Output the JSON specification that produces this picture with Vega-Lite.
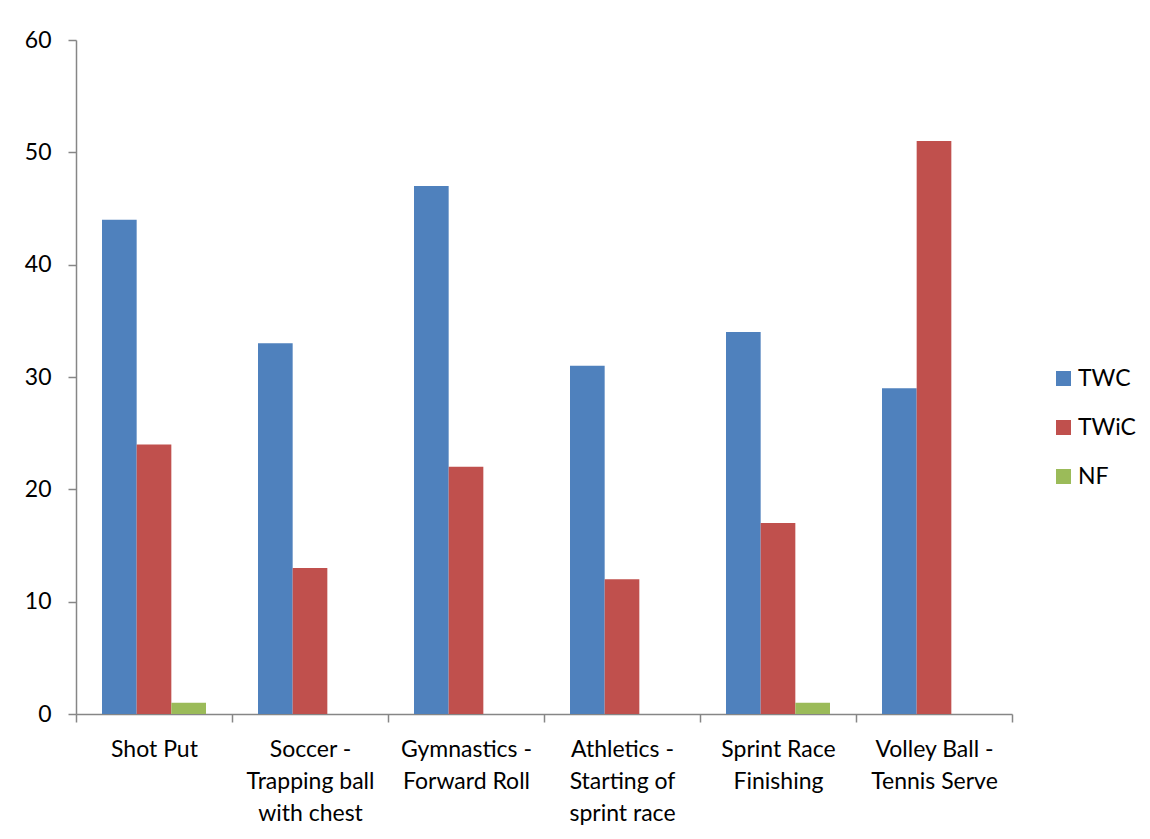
{
  "$schema": "https://vega.github.io/schema/vega-lite/v6.json",
  "width": 936,
  "height": 674,
  "autosize": {"type": "none"},
  "padding": {"left": 76, "top": 40, "right": 138, "bottom": 125},
  "background": "white",
  "config": {
    "view": {"stroke": null},
    "font": "Lato",
    "axis": {
      "domainColor": "#868686",
      "domainWidth": 1.5,
      "tickColor": "#868686",
      "tickWidth": 1.5,
      "tickSize": 8,
      "labelColor": "#000000",
      "labelFont": "Lato",
      "labelFontSize": 23,
      "grid": false,
      "title": null
    }
  },
  "data": {
    "values": [
      {"activity": "Shot Put", "series": "TWC", "count": 44},
      {"activity": "Shot Put", "series": "TWiC", "count": 24},
      {"activity": "Shot Put", "series": "NF", "count": 1},
      {"activity": "Soccer -\nTrapping ball\nwith chest", "series": "TWC", "count": 33},
      {"activity": "Soccer -\nTrapping ball\nwith chest", "series": "TWiC", "count": 13},
      {"activity": "Soccer -\nTrapping ball\nwith chest", "series": "NF", "count": 0},
      {"activity": "Gymnastics -\nForward Roll", "series": "TWC", "count": 47},
      {"activity": "Gymnastics -\nForward Roll", "series": "TWiC", "count": 22},
      {"activity": "Gymnastics -\nForward Roll", "series": "NF", "count": 0},
      {"activity": "Athletics -\nStarting of\nsprint race", "series": "TWC", "count": 31},
      {"activity": "Athletics -\nStarting of\nsprint race", "series": "TWiC", "count": 12},
      {"activity": "Athletics -\nStarting of\nsprint race", "series": "NF", "count": 0},
      {"activity": "Sprint Race\nFinishing", "series": "TWC", "count": 34},
      {"activity": "Sprint Race\nFinishing", "series": "TWiC", "count": 17},
      {"activity": "Sprint Race\nFinishing", "series": "NF", "count": 1},
      {"activity": "Volley Ball -\nTennis Serve", "series": "TWC", "count": 29},
      {"activity": "Volley Ball -\nTennis Serve", "series": "TWiC", "count": 51},
      {"activity": "Volley Ball -\nTennis Serve", "series": "NF", "count": 0}
    ]
  },
  "mark": {"type": "bar"},
  "encoding": {
    "x": {
      "field": "activity",
      "type": "nominal",
      "sort": null,
      "scale": {"paddingInner": 0, "paddingOuter": 0},
      "axis": {
        "labelAngle": 0,
        "tickBand": "extent",
        "labelPadding": 16,
        "labelLineHeight": 32,
        "labelExpr": "split(datum.label, '\\n')"
      }
    },
    "xOffset": {
      "field": "series",
      "type": "nominal",
      "sort": ["TWC", "TWiC", "NF"],
      "scale": {"paddingInner": 0, "paddingOuter": 0.75}
    },
    "y": {
      "field": "count",
      "type": "quantitative",
      "scale": {"domain": [0, 60], "nice": false},
      "axis": {"values": [0, 10, 20, 30, 40, 50, 60], "labelPadding": 17}
    },
    "color": {
      "field": "series",
      "type": "nominal",
      "scale": {"domain": ["TWC", "TWiC", "NF"], "range": ["#4F81BD", "#C0504D", "#9BBB59"]},
      "legend": {
        "title": null,
        "orient": "none",
        "legendX": 976,
        "legendY": 327,
        "symbolType": "square",
        "symbolSize": 225,
        "symbolStrokeWidth": 0,
        "labelFont": "Lato",
        "labelFontSize": 23,
        "labelColor": "#000000",
        "labelOffset": 3,
        "rowPadding": 25
      }
    }
  }
}
